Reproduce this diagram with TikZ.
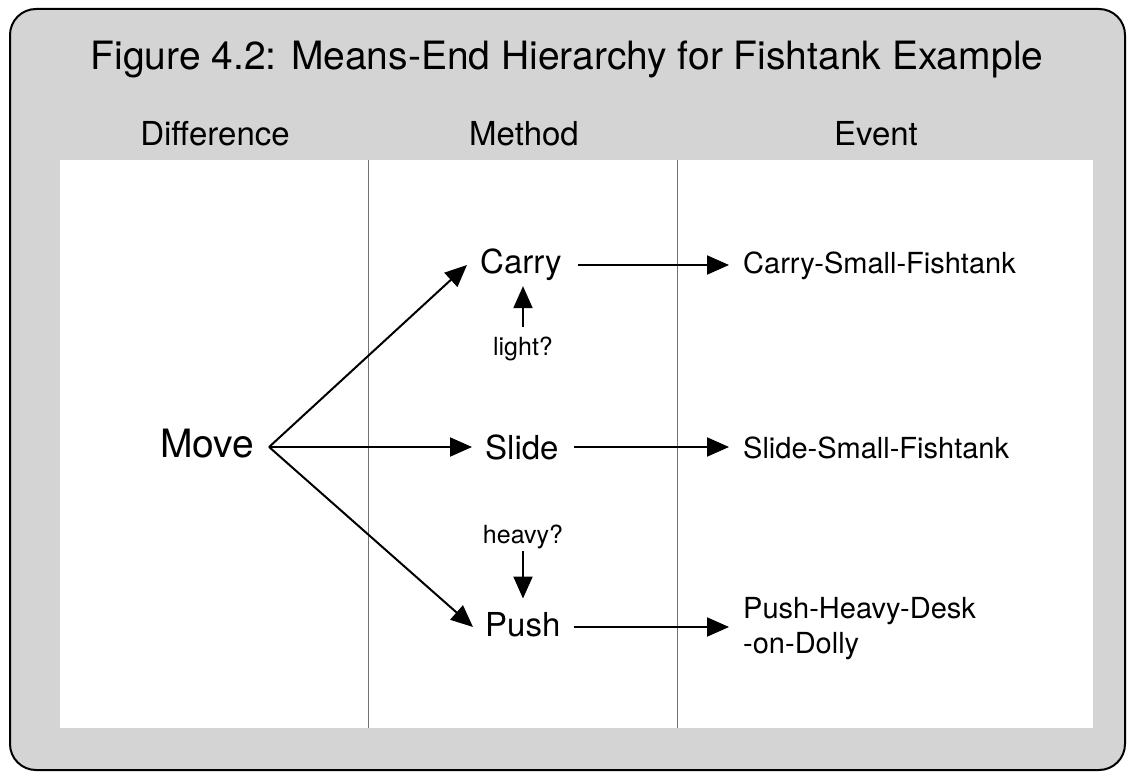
\documentclass[tikz,border=0pt]{standalone}
\usepackage{fontspec}
\setmainfont{TeX Gyre Heros}
\usetikzlibrary{arrows.meta}
\definecolor{panelgray}{gray}{0.83}
\definecolor{rulegray}{gray}{0.45}
\begin{document}
\begin{tikzpicture}[x=1pt,y=-1pt,
  tip/.style={-{Triangle[length=22pt,width=19pt]}, line width=2pt},
  colhead/.style={font=\fontsize{33}{36}\selectfont},
  method/.style={font=\fontsize{33}{36}\selectfont, inner sep=0pt, anchor=west},
  event/.style={font=\fontsize{29}{35}\selectfont, anchor=west, align=left, inner sep=0pt},
  cond/.style={font=\fontsize{25}{28}\selectfont, inner sep=0pt}]
\useasboundingbox (0,0) rectangle (1133,778);
% outer panel and white drawing area
\draw[line width=2pt, fill=panelgray, rounded corners=26pt] (10,9) rectangle (1125,770);
\fill[white] (60,160) rectangle (1093,728);
\draw[rulegray, line width=0.8pt] (368,160) -- (368,728);
\draw[rulegray, line width=0.8pt] (677,160) -- (677,728);
% title and column headings
\node[font=\fontsize{39}{42}\selectfont] (title) at (567,59) {Figure 4.2: Means-End Hierarchy for Fishtank Example};
\node[colhead] (hdiff) at (215,134) {Difference};
\node[colhead] (hmeth) at (524,134) {Method};
\node[colhead] (hevent) at (876,134) {Event};
% difference, methods, events
\node[font=\fontsize{39}{42}\selectfont, inner sep=0pt] (move) at (207,444) {Move};
\coordinate (fork) at ([xshift=15pt]move.east |- 0,447);
\node[method] (carry) at (480,265) {Carry};
\node[method] (slide) at (485,447) {Slide};
\node[method] (push) at (485,625) {Push};
\node[event] (ecarry) at (743,266) {Carry-Small-Fishtank};
\node[event] (eslide) at (743,448) {Slide-Small-Fishtank};
\node[event, anchor=north west] (epush) at (743,597) {Push-Heavy-Desk\\-on-Dolly};
\node[cond] (light) at (523,349) {light?};
\node[cond] (heavy) at (523,537) {heavy?};
% connectors
\draw[tip] (fork) -- ([xshift=-13pt]carry.west);
\draw[tip] (fork) -- ([xshift=-13pt]slide.west);
\draw[tip] (fork) -- ([xshift=-12pt,yshift=-2pt]push.west);
\draw[tip] ([xshift=16pt]carry.east) -- ([xshift=-14pt]ecarry.west |- carry.east);
\draw[tip] ([xshift=15pt]slide.east) -- ([xshift=-14pt]eslide.west |- slide.east);
\draw[tip] ([xshift=13pt,yshift=-2pt]push.east) -- ([xshift=-14pt,yshift=-2pt]epush.west |- push.east);
\draw[tip] ([yshift=10pt]light.north) -- ([yshift=-5pt]carry.south -| light.north);
\draw[tip] ([yshift=-2pt]heavy.south) -- ([yshift=14pt]push.north -| heavy.south);
\end{tikzpicture}
\end{document}
